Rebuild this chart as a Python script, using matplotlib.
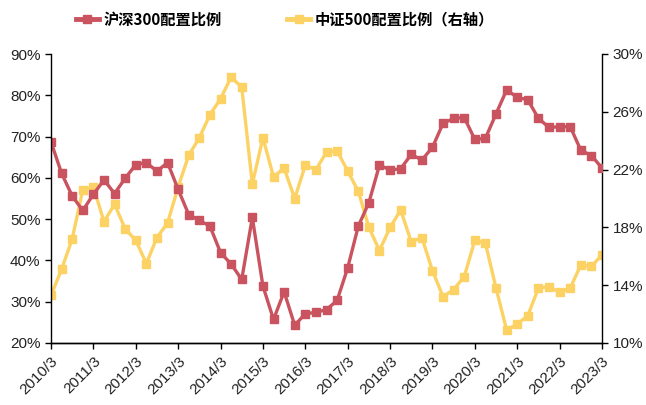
import numpy as np
import matplotlib.pyplot as plt
from matplotlib.lines import Line2D
from matplotlib.ticker import FuncFormatter

plt.rcParams['font.family'] = ['Liberation Sans', 'Noto Sans CJK SC', 'DejaVu Sans']

# --- data (quarterly, 2010/3 .. 2023/3) ---
quarters = [f"{y}/{m}" for y in range(2010, 2024) for m in (3, 6, 9, 12)][:53]
tick_labels = [f"{y}/3" for y in range(2010, 2024)]

hs300 = [68.7, 61.1, 55.6, 52.1, 56.0, 59.5, 56.2, 59.9, 63.2, 63.7,
         61.6, 63.7, 57.2, 51.1, 49.7, 48.3, 41.9, 39.1, 35.4, 50.4,
         33.8, 25.7, 32.4, 24.3, 27.1, 27.4, 28.1, 30.3, 38.2, 48.3,
         54.0, 63.1, 61.9, 62.2, 65.7, 64.3, 67.4, 73.2, 74.4, 74.6,
         69.3, 69.6, 75.5, 81.3, 79.5, 78.9, 74.4, 72.2, 72.4, 72.4,
         66.7, 65.4, 62.4]

zz500 = [13.3, 15.1, 17.2, 20.6, 20.8, 18.4, 19.6, 17.9, 17.1, 15.5,
         17.3, 18.3, 20.8, 23.0, 24.2, 25.8, 26.9, 28.4, 27.7, 21.0,
         24.2, 21.5, 22.1, 20.0, 22.3, 22.0, 23.2, 23.3, 21.9, 20.5,
         18.0, 16.4, 18.0, 19.2, 17.0, 17.3, 15.0, 13.2, 13.7, 14.6,
         17.1, 16.9, 13.8, 10.9, 11.3, 11.9, 13.8, 13.9, 13.5, 13.8,
         15.4, 15.3, 16.1]

red = '#C9535E'
yellow = '#FBD263'

fig = plt.figure(figsize=(6.46, 4.05), dpi=100)
ax = fig.add_axes([51/646, 1 - 343/405, (602-51)/646, (343-54)/405])
ax2 = ax.twinx()

x = np.arange(len(quarters))
ax.plot(x, hs300, color=red, lw=2.4, marker='s', ms=5.5)
ax2.plot(x, zz500, color=yellow, lw=2.4, marker='s', ms=5.5)
ax.set_zorder(ax2.get_zorder() + 1)
ax.patch.set_visible(False)

ax.set_xlim(0, len(quarters) - 1)
ax.set_ylim(20, 90)
ax2.set_ylim(10, 30)
ax.set_yticks(np.arange(20, 91, 10))
ax2.set_yticks(np.arange(10, 31, 4))
pct = FuncFormatter(lambda v, p: f"{v:.0f}%")
ax.yaxis.set_major_formatter(pct)
ax2.yaxis.set_major_formatter(pct)

ax.set_xticks(x[::4])
ax.set_xticklabels(tick_labels, rotation=45, ha='right', rotation_mode='anchor')

for a in (ax, ax2):
    a.spines['top'].set_visible(False)
    for s in a.spines.values():
        s.set_linewidth(1.0)
    a.tick_params(labelsize=11, length=4, width=1, color='black', labelcolor='#222222')
ax2.spines['left'].set_visible(False)
ax.spines['right'].set_visible(False)
ax.tick_params(axis='x', pad=4)

h1 = Line2D([], [], color=red, lw=3.5, marker='s', ms=6)
h2 = Line2D([], [], color=yellow, lw=3.5, marker='s', ms=6)
fig.legend(handles=[h1, h2], labels=['沪深300配置比例', '中证500配置比例（右轴）'],
           loc='upper left', bbox_to_anchor=(62/646, 1.005), ncol=2,
           frameon=False, columnspacing=4.3, handlelength=1.5, handletextpad=0.3,
           prop={'family': ['Noto Sans CJK SC', 'DejaVu Sans'], 'weight': 'bold', 'size': 11})

fig.savefig('out.png', dpi=100)
